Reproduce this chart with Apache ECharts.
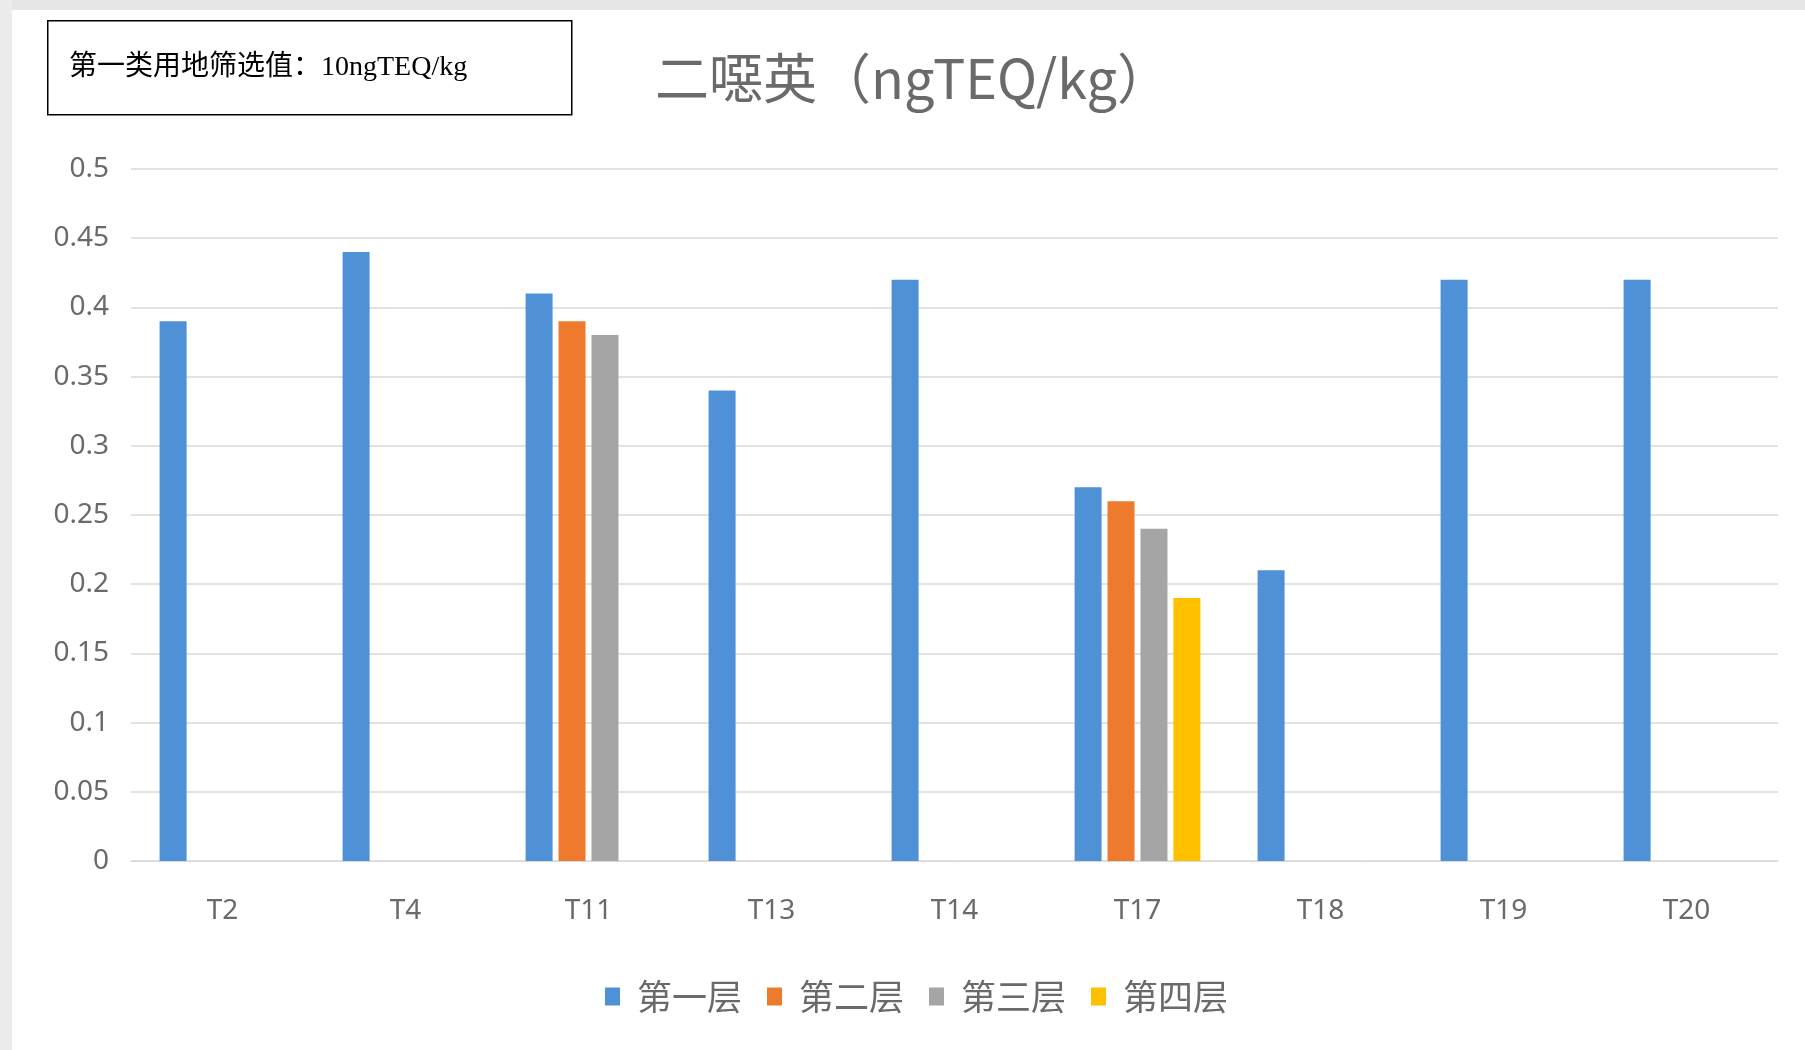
<!DOCTYPE html>
<html>
<head>
<meta charset="utf-8">
<script src="https://cdn.jsdelivr.net/npm/echarts@6/dist/echarts.min.js"></script>
<style>
html,body{margin:0;padding:0;background:#fff;}
#chart{width:1805px;height:1050px;}
</style>
</head>
<body>
<div id="chart"></div>
<script>
const categories = ['T2','T4','T11','T13','T14','T17','T18','T19','T20'];
const seriesNames = ['第一层','第二层','第三层','第四层'];
const layer1 = [0.39, 0.44, 0.41, 0.34, 0.42, 0.27, 0.21, 0.42, 0.42];
const layer2 = [null, null, 0.39, null, null, 0.26, null, null, null];
const layer3 = [null, null, 0.38, null, null, 0.24, null, null, null];
const layer4 = [null, null, null, null, null, 0.19, null, null, null];
const yTicks = [0, 0.05, 0.1, 0.15, 0.2, 0.25, 0.3, 0.35, 0.4, 0.45, 0.5];
const titleText = '二噁英（ngTEQ/kg）';
const noteText = '第一类用地筛选值：10ngTEQ/kg';

const colors = ['#4f91d7', '#ee7a2e', '#a5a5a5', '#ffc000'];
const dataSets = [layer1, layer2, layer3, layer4];

const chart = echarts.init(document.getElementById('chart'));
chart.setOption({
  animation: false,
  backgroundColor: '#ffffff',
  color: colors,
  title: {
    text: titleText,
    left: 908, top: 46, textAlign: 'center',
    textStyle: { fontFamily: 'Noto Sans CJK SC', fontSize: 54, fontWeight: 'normal', color: '#6a6a6a' }
  },
  graphic: [
    { type: 'rect', left: 0, top: 0, shape: { width: 1805, height: 10 }, style: { fill: '#e6e6e6' }, z: -1 },
    { type: 'rect', left: 0, top: 0, shape: { width: 12, height: 1050 }, style: { fill: '#ececec' }, z: -1 },
    { type: 'rect', left: 47, top: 20, shape: { width: 524, height: 94 }, style: { fill: '#fff', stroke: '#000', lineWidth: 1.5 } },
    { type: 'text', left: 69, top: 54, style: { text: noteText, font: '28px "Liberation Serif", "Noto Sans CJK SC"', fill: '#000' } }
  ],
  legend: {
    data: seriesNames,
    left: 600, top: 974,
    itemWidth: 15, itemHeight: 18, itemGap: 25,
    icon: 'rect',
    textStyle: { fontFamily: 'Noto Sans CJK SC', fontSize: 35, color: '#6a6a6a', padding: [0, 0, 0, 12] }
  },
  grid: { left: 131, right: 27, top: 169, bottom: 189 },
  xAxis: {
    type: 'category',
    data: categories,
    axisLine: { show: true, lineStyle: { color: '#d9d9d9' } },
    axisTick: { show: false },
    axisLabel: { margin: 36, fontFamily: 'Noto Sans', fontSize: 28, color: '#6a6a6a' }
  },
  yAxis: {
    type: 'value',
    min: 0, max: 0.5, interval: 0.05,
    axisLine: { show: false },
    axisTick: { show: false },
    splitLine: { lineStyle: { color: '#d9d9d9', width: 1.5 } },
    axisLabel: {
      margin: 22, fontFamily: 'Noto Sans', fontSize: 28, color: '#6a6a6a',
      formatter: v => { const t = yTicks.find(x => Math.abs(x - v) < 1e-9); return t === undefined ? '' : String(t); }
    }
  },
  series: seriesNames.map((n, i) => ({
    name: n, type: 'bar', data: dataSets[i], barWidth: 27, barGap: '22%',
    itemStyle: { color: colors[i] }
  }))
});
</script>
</body>
</html>
